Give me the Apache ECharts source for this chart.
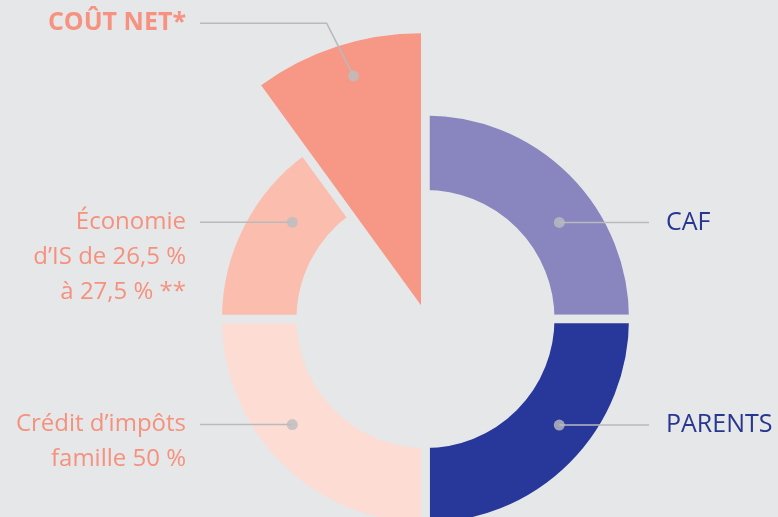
<!DOCTYPE html>
<html><head><meta charset="utf-8">
<script src="https://cdn.jsdelivr.net/npm/echarts@6/dist/echarts.min.js"></script>
<style>html,body{margin:0;padding:0;background:#e6e7e9}#c{width:778px;height:517px}</style>
</head><body><div id="c"></div>
<script>
// ---- data ----
const categories = ['CAF', 'PARENTS', 'Crédit d’impôts\nfamille 50 %', 'Économie\nd’IS de 26,5 %\nà 27,5 % **', 'COÛT NET*'];
const values = [25, 25, 25, 15, 10];
const sliceColors = ['#8885bf', '#27379a', '#fddcd3', '#fbbdae', '#f79785'];
const textColors = ['#27368f', '#27368f', '#f5917d', '#f5917d', '#f6927f'];

// ---- layout (pixels) ----
const BG = '#e6e7e9';
const CX = 425.5, CY = 319;
const dotRadius = [165, 170.7, 170, 164.6, 253.4];
const dotAngle = [54.2, 128.4, 231.6, 306, 343.5];
const LH = 35;

function dotXY(i) {
  const a = dotAngle[i] * Math.PI / 180;
  return [CX + dotRadius[i] * Math.sin(a), CY - dotRadius[i] * Math.cos(a)];
}
function layoutFor(i) {
  const p = dotXY(i);
  if (i < 2) {
    return { x: 666, y: p[1], align: 'left', verticalAlign: 'middle',
      labelLinePoints: [p, [649, p[1]], [649, p[1]]] };
  }
  const ly = i === 4 ? 23.3 : p[1];
  return { x: 186, y: ly - LH / 2, align: 'right', verticalAlign: 'top',
    labelLinePoints: i === 4 ? [p, [326.7, ly], [200, ly]] : [p, [200, ly], [200, ly]] };
}

const chart = echarts.init(document.getElementById('c'));

const ringData = categories.map((n, i) => ({
  name: n, value: values[i],
  itemStyle: i === 4 ? { color: 'rgba(0,0,0,0)', borderWidth: 0 } : { color: sliceColors[i] }
}));
const wedgeData = categories.map((n, i) => ({
  name: n, value: values[i], selected: i === 4,
  itemStyle: { color: i === 4 ? sliceColors[i] : 'rgba(0,0,0,0)' }
}));
const labelData = categories.map((n, i) => ({
  name: n, value: values[i],
  label: {
    color: textColors[i],
    fontSize: i === 4 ? 25 : (i < 2 ? 25 : 24),
    fontWeight: i === 4 ? 'bold' : 500
  }
}));

chart.setOption({
  backgroundColor: BG,
  animation: false,
  polar: { center: [CX, CY], radius: 300 },
  radiusAxis: { min: 0, max: 300, show: false },
  angleAxis: { min: 0, max: 360, startAngle: 90, clockwise: true, show: false },
  series: [
    {
      type: 'pie', center: [CX, CY], radius: [124.75, 207.75],
      startAngle: 90, clockwise: true, silent: true,
      itemStyle: { borderColor: BG, borderWidth: 8.5 },
      label: { show: false }, labelLine: { show: false },
      data: ringData, z: 2
    },
    {
      type: 'pie', center: [CX, CY], radius: [0, 272],
      startAngle: 90, clockwise: true, silent: true,
      selectedMode: 'single', selectedOffset: 14.5,
      itemStyle: { borderWidth: 0 },
      label: { show: false }, labelLine: { show: false },
      data: wedgeData, z: 3
    },
    {
      type: 'pie', center: [CX, CY], radius: [124.75, 207.75],
      startAngle: 90, clockwise: true, silent: true, avoidLabelOverlap: false,
      itemStyle: { color: 'rgba(0,0,0,0)', borderWidth: 0 },
      label: { show: true, position: 'outside', formatter: '{b}', fontFamily: 'Open Sans', lineHeight: LH },
      labelLine: { show: true, smooth: false, lineStyle: { color: '#b9babd', width: 1.5 } },
      labelLayout: p => layoutFor(p.dataIndex),
      data: labelData, z: 4
    },
    {
      type: 'scatter', coordinateSystem: 'polar', symbolSize: 11, silent: true,
      itemStyle: { color: '#bcbdc1' }, z: 5,
      data: categories.map((n, i) => [dotRadius[i], dotAngle[i]])
    }
  ]
});
</script></body></html>
